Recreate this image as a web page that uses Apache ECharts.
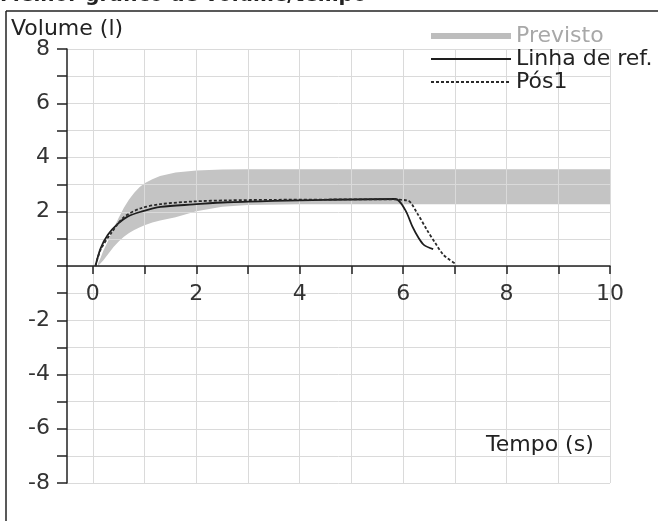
<!DOCTYPE html>
<html lang="pt">
<head>
    <meta charset="UTF-8">
    <title>Volume/tempo</title>
    <script src="https://cdn.jsdelivr.net/npm/echarts@6/dist/echarts.min.js"></script>
    <style>
        html, body { margin: 0; padding: 0; background: #fff; }
        #main { width: 658px; height: 521px; }
    </style>
</head>
<body>
<div id="main"></div>
<script>
    // faixa prevista (limite inferior / superior)
    var bandX = [0.1, 0.15, 0.2, 0.3, 0.4, 0.5, 0.6, 0.7, 0.8, 0.9, 1.0, 1.15, 1.3, 1.6, 2.0, 2.5, 3.0, 4.0, 10];
    var bandLow = [0, 0.1, 0.2, 0.45, 0.7, 0.9, 1.08, 1.22, 1.33, 1.42, 1.5, 1.6, 1.68, 1.8, 2.02, 2.18, 2.25, 2.28, 2.28];
    var bandHigh = [0.1, 0.3, 0.55, 0.95, 1.38, 1.78, 2.15, 2.45, 2.7, 2.9, 3.05, 3.2, 3.32, 3.45, 3.52, 3.56, 3.57, 3.57, 3.57];

    // linha de referencia
    var refX = [0.05, 0.15, 0.29, 0.48, 0.67, 0.93, 1.31, 1.95, 2.6, 3.5, 4.5, 5.85, 6.04, 6.18, 6.3, 6.4, 6.58];
    var refY = [0, 0.65, 1.15, 1.55, 1.82, 2.0, 2.18, 2.27, 2.35, 2.4, 2.44, 2.47, 2.07, 1.45, 1.03, 0.78, 0.62];

    // pos1
    var posX = [0.05, 0.15, 0.35, 0.6, 0.93, 1.31, 1.95, 2.6, 3.5, 4.5, 5.5, 6.08, 6.27, 6.46, 6.62, 6.78, 7.0];
    var posY = [0, 0.6, 1.2, 1.8, 2.13, 2.28, 2.38, 2.42, 2.44, 2.45, 2.46, 2.42, 1.95, 1.33, 0.85, 0.41, 0.1];

    var xTicks = [0, 1, 2, 3, 4, 5, 6, 7, 8, 9, 10];
    var xLabels = [0, 2, 4, 6, 8, 10];

    function pairs(xs, ys) {
        var out = [];
        for (var i = 0; i < xs.length; i++) out.push([xs[i], ys[i]]);
        return out;
    }

    var font = 'DejaVu Sans';
    var myChart = echarts.init(document.getElementById('main'));
    var option = {
        animation: false,
        textStyle: { fontFamily: font },
        grid: { left: 67, right: 48, top: 49, bottom: 38 },
        title: [
            { text: 'Volume (l)', left: 6, top: 13, zlevel: 2, textStyle: { fontSize: 22, fontWeight: 'normal', color: '#222', fontFamily: font } },
            { text: 'Tempo (s)', left: 481, top: 429, zlevel: 2, textStyle: { fontSize: 22, fontWeight: 'normal', color: '#222', fontFamily: font } }
        ],
        graphic: [
            { type: 'text', x: 0, y: -4, zlevel: 2, style: { text: 'Melhor gráfico de volume/tempo', font: 'bold 20px "DejaVu Sans"', fill: '#222', verticalAlign: 'middle' } },
            { type: 'line', shape: { x1: 6, y1: 11, x2: 658, y2: 11 }, style: { stroke: '#222', lineWidth: 1.5 } },
            { type: 'line', shape: { x1: 6, y1: 11, x2: 6, y2: 521 }, style: { stroke: '#222', lineWidth: 1.5 } }
        ],
        legend: {
            orient: 'vertical',
            left: 425,
            top: 20,
            zlevel: 2,
            itemWidth: 80,
            itemHeight: 6,
            itemGap: 1,
            textStyle: { fontSize: 22, color: '#222', fontFamily: font },
            data: [
                { name: 'Previsto', icon: 'rect', itemStyle: { color: '#bdbdbd' }, textStyle: { color: '#a8a8a8' } },
                { name: 'Linha de ref.', itemStyle: { opacity: 0 } },
                { name: 'Pós1', itemStyle: { opacity: 0 } }
            ]
        },
        xAxis: {
            type: 'value',
            min: -0.5,
            max: 10,
            zlevel: 1,
            offset: -217,
            axisLine: { onZero: false, lineStyle: { color: '#222', width: 1.5 } },
            axisTick: { customValues: xTicks, length: 8, lineStyle: { color: '#222', width: 1.5 } },
            axisLabel: { customValues: xLabels, margin: 17, fontSize: 22, color: '#333' },
            splitLine: { show: true, lineStyle: { color: '#dadada', width: 1 } }
        },
        yAxis: {
            type: 'value',
            min: -8,
            max: 8,
            interval: 1,
            zlevel: 1,
            axisLine: { show: true, onZero: false, lineStyle: { color: '#222', width: 1.5 } },
            axisTick: { show: true, length: 10, lineStyle: { color: '#222', width: 1.5 } },
            axisLabel: {
                margin: 17, fontSize: 22, color: '#333',
                formatter: function (v) { return (v !== 0 && v % 2 === 0) ? String(v) : ''; }
            },
            splitLine: { show: true, lineStyle: { color: '#dadada', width: 1 } }
        },
        series: [
            {
                name: 'Previsto', type: 'custom', zlevel: 0,
                itemStyle: { color: '#bdbdbd' },
                data: [[0, 0]],
                renderItem: function (params, api) {
                    var pts = [];
                    for (var i = 0; i < bandX.length; i++) pts.push(api.coord([bandX[i], bandHigh[i]]));
                    for (var j = bandX.length - 1; j >= 0; j--) pts.push(api.coord([bandX[j], bandLow[j]]));
                    return { type: 'polygon', shape: { points: pts }, style: { fill: '#c4c4c4' } };
                }
            },
            {
                name: 'Linha de ref.', type: 'line', zlevel: 2, symbol: 'none', smooth: 0.3,
                itemStyle: { color: '#1e1e1e' },
                lineStyle: { color: '#1e1e1e', width: 1.8 }, data: pairs(refX, refY)
            },
            {
                name: 'Pós1', type: 'line', zlevel: 2, symbol: 'none', smooth: 0.3,
                itemStyle: { color: '#2a2a2a' },
                lineStyle: { color: '#2a2a2a', width: 1.8, type: [3, 2] }, data: pairs(posX, posY)
            }
        ]
    };
    option && myChart.setOption(option);
</script>
</body>
</html>
